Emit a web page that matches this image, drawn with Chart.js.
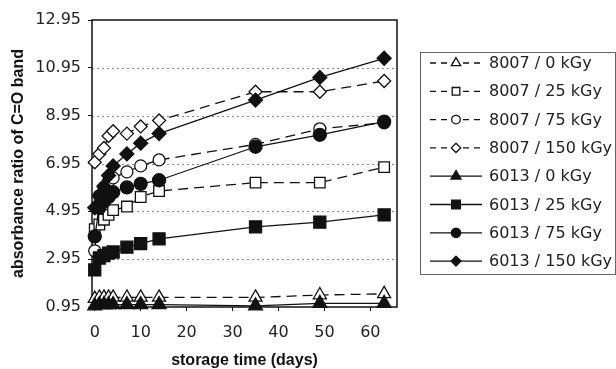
<!DOCTYPE html>
<html>
<head>
<meta charset="utf-8">
<script src="https://cdn.jsdelivr.net/npm/chart.js@4.4.0/dist/chart.umd.min.js"></script>
<style>
html, body { margin: 0; padding: 0; background: #fff; }
#wrap { width: 616px; height: 369px; }
</style>
</head>
<body>
<div id="wrap"><canvas id="grafico"></canvas></div>
<script>
// storage time (days)
var dias = [0, 1, 2, 3, 4, 7, 10, 14, 35, 49, 63];

// absorbance ratio of C=O band, one array per sample / dose
var s8007_0   = [1.30, 1.35, 1.35, 1.35, 1.35, 1.35, 1.35, 1.35, 1.35, 1.45, 1.50];
var s8007_25  = [4.20, 4.40, 4.60, 4.80, 5.00, 5.15, 5.55, 5.80, 6.15, 6.15, 6.80];
var s8007_75  = [3.30, 5.60, 5.95, 6.20, 6.35, 6.60, 6.85, 7.10, 7.75, 8.40, 8.65];
var s8007_150 = [7.00, 7.35, 7.60, 8.10, 8.30, 8.20, 8.50, 8.75, 9.95, 9.95, 10.40];
var s6013_0   = [1.00, 1.05, 1.05, 1.05, 1.05, 1.05, 1.05, 1.05, 1.00, 1.10, 1.10];
var s6013_25  = [2.50, 3.00, 3.10, 3.20, 3.25, 3.45, 3.60, 3.80, 4.30, 4.50, 4.80];
var s6013_75  = [3.90, 5.10, 5.35, 5.55, 5.75, 5.95, 6.10, 6.25, 7.65, 8.15, 8.70];
var s6013_150 = [5.10, 5.60, 6.00, 6.45, 6.85, 7.35, 7.80, 8.20, 9.60, 10.55, 11.35];

var rotulos = ['8007 / 0 kGy', '8007 / 25 kGy', '8007 / 75 kGy', '8007 / 150 kGy',
               '6013 / 0 kGy', '6013 / 25 kGy', '6013 / 75 kGy', '6013 / 150 kGy'];

var xTicks = [0, 10, 20, 30, 40, 50, 60];
var yTicks = [0.95, 2.95, 4.95, 6.95, 8.95, 10.95, 12.95];

var fonteNum = 'DejaVu Sans';
var fonteTit = 'Liberation Sans';

function pontos(valores){
    var out = [];
    for(var i = 0; i < dias.length; i++){
        out.push({x: dias[i], y: valores[i]});
    }
    return out;
}

function serie(label, valores, forma, raio, cheio, tracejado){
    return {
        label: label,
        data: pontos(valores),
        borderColor: '#111',
        borderWidth: 1.3,
        borderDash: tracejado ? [10, 6] : [],
        pointStyle: forma,
        pointRadius: raio,
        pointHoverRadius: raio,
        pointBorderWidth: 1.3,
        pointBorderColor: '#111',
        pointBackgroundColor: cheio ? '#111' : '#fff',
        showLine: true,
        fill: false,
        tension: 0,
        clip: false,
        order: tracejado ? 1 : 0,
        _legRaio: raio * 0.72
    };
}

var datasets = [
    serie(rotulos[0], s8007_0,   'triangle', 7.5, false, true),
    serie(rotulos[1], s8007_25,  'rect',     7.5, false, true),
    serie(rotulos[2], s8007_75,  'circle',   6,   false, true),
    serie(rotulos[3], s8007_150, 'rectRot',  6.5, false, true),
    serie(rotulos[4], s6013_0,   'triangle', 8,   true,  false),
    serie(rotulos[5], s6013_25,  'rect',     8.5, true,  false),
    serie(rotulos[6], s6013_75,  'circle',   6.5, true,  false),
    serie(rotulos[7], s6013_150, 'rectRot',  7,   true,  false)
];

// dotted grid + frame
var moldura = {
    id: 'moldura',
    beforeDatasetsDraw: function(chart){
        var ctx = chart.ctx, a = chart.chartArea, ys = chart.scales.y;
        ctx.save();
        ctx.strokeStyle = '#888';
        ctx.lineWidth = 1;
        ctx.setLineDash([2, 3]);
        for(var i = 1; i < yTicks.length - 1; i++){
            var py = Math.round(ys.getPixelForValue(yTicks[i])) + 0.5;
            ctx.beginPath();
            ctx.moveTo(a.left, py);
            ctx.lineTo(a.right, py);
            ctx.stroke();
        }
        ctx.setLineDash([]);
        ctx.strokeStyle = '#111';
        ctx.lineWidth = 1.5;
        ctx.strokeRect(a.left, a.top, a.right - a.left, a.bottom - a.top);
        ctx.restore();
    }
};

// legend box with line + marker samples
var legenda = {
    id: 'legenda',
    afterDraw: function(chart){
        var ctx = chart.ctx;
        var bx = 420, by = 52, bw = 195, bh = 222;
        ctx.save();
        ctx.strokeStyle = '#666';
        ctx.lineWidth = 1;
        ctx.strokeRect(bx + 0.5, by + 0.5, bw, bh);
        ctx.font = '16px "' + fonteNum + '"';
        ctx.textBaseline = 'middle';
        ctx.fillStyle = '#222';
        var ds = chart.data.datasets;
        for(var i = 0; i < ds.length; i++){
            var cy = 63 + i * 28.3;
            ctx.strokeStyle = '#111';
            ctx.lineWidth = 1.3;
            ctx.setLineDash(ds[i].borderDash.length ? [6, 5] : []);
            ctx.beginPath();
            ctx.moveTo(430, cy);
            ctx.lineTo(482, cy);
            ctx.stroke();
            ctx.setLineDash([]);
            ctx.fillStyle = ds[i].pointBackgroundColor;
            Chart.helpers.drawPoint(ctx, {
                pointStyle: ds[i].pointStyle,
                radius: ds[i]._legRaio,
                rotation: 0,
                borderWidth: 1.3
            }, 456, cy);
            ctx.fillStyle = '#222';
            ctx.fillText(ds[i].label, 489, cy + 1);
        }
        ctx.restore();
    }
};

var ctx = document.getElementById('grafico').getContext('2d');
var grafico = new Chart(ctx, {
    type: 'scatter',
    data: { datasets: datasets },
    plugins: [moldura, legenda],
    options: {
        responsive: true,
        maintainAspectRatio: false,
        animation: false,
        layout: { padding: { left: 0, right: 219, top: 20, bottom: 0 } },
        plugins: {
            legend: { display: false },
            tooltip: { enabled: false }
        },
        scales: {
            x: {
                type: 'linear',
                min: -0.6,
                max: 65.8,
                afterBuildTicks: function(scale){
                    scale.ticks = xTicks.map(function(v){ return {value: v}; });
                },
                afterFit: function(scale){ scale.height = 62; },
                grid: { drawOnChartArea: false, tickLength: 4, color: '#111', lineWidth: 1 },
                border: { display: false },
                ticks: {
                    color: '#222',
                    padding: 12,
                    maxRotation: 0,
                    font: { family: fonteNum, size: 16 }
                },
                title: {
                    display: true,
                    text: 'storage time (days)',
                    color: '#111',
                    padding: { top: 0, bottom: 0 },
                    font: { family: fonteTit, size: 16, weight: 'bold', lineHeight: 1.0 }
                }
            },
            y: {
                min: 0.95,
                max: 12.95,
                afterBuildTicks: function(scale){
                    scale.ticks = yTicks.map(function(v){ return {value: v}; });
                },
                afterFit: function(scale){ scale.width = 92; },
                grid: { drawOnChartArea: false, tickLength: 4, color: '#111', lineWidth: 1 },
                border: { display: false },
                ticks: {
                    color: '#222',
                    padding: 7,
                    font: { family: fonteNum, size: 16 },
                    callback: function(v){ return v.toFixed(2); }
                },
                title: {
                    display: true,
                    text: 'absorbance ratio of C=O band',
                    color: '#111',
                    padding: { top: 9, bottom: 0 },
                    font: { family: fonteTit, size: 16, weight: 'bold' }
                }
            }
        }
    }
});
</script>
</body>
</html>
